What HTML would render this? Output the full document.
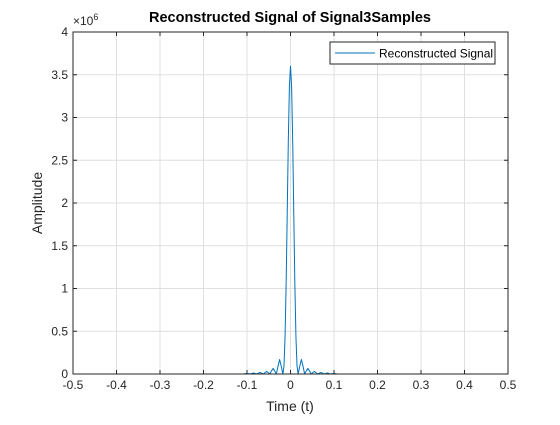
<!DOCTYPE html>
<html><head><meta charset="utf-8"><style>
body{margin:0;background:#fff;width:560px;height:420px;overflow:hidden}
svg text{font-family:"Liberation Sans",sans-serif}
</style></head><body>
<svg id="chart" width="560" height="420" xmlns="http://www.w3.org/2000/svg">
<rect width="560" height="420" fill="#fff"/>
<rect x="73" y="32" width="435" height="342" fill="#fff"/>
<g id="grid"></g><g id="ticks"></g>
<path id="line" fill="none" stroke="#0072bd" stroke-width="1" stroke-linejoin="round"/>
<rect x="73" y="32" width="435" height="342" fill="none" stroke="#262626" stroke-width="1"/>
<text x="290" y="22" text-anchor="middle" font-size="14.5" font-weight="bold" fill="#000">Reconstructed Signal of Signal3Samples</text>
<text x="290" y="411" text-anchor="middle" font-size="14" fill="#262626">Time (t)</text>
<text transform="translate(42,203) rotate(-90)" text-anchor="middle" font-size="14" fill="#262626">Amplitude</text>
<text x="73" y="25" font-size="12" fill="#262626">×10<tspan dy="-5" font-size="9">6</tspan></text>
<g>
<rect x="330" y="42" width="165" height="22" fill="#fff" stroke="#262626" stroke-width="1"/>
<line x1="335" y1="53" x2="375" y2="53" stroke="#0072bd"/>
<text x="379" y="57.5" font-size="12" fill="#000">Reconstructed Signal</text>
</g>
</svg>
<script>
const xTicks=[-0.5,-0.4,-0.3,-0.2,-0.1,0,0.1,0.2,0.3,0.4,0.5];
const xTickLabels=["-0.5","-0.4","-0.3","-0.2","-0.1","0","0.1","0.2","0.3","0.4","0.5"];
const yTicks=[0,0.5,1,1.5,2,2.5,3,3.5,4];
const yTickLabels=["0","0.5","1","1.5","2","2.5","3","3.5","4"];
const times=[-0.5,-0.1075,-0.1,-0.0925,-0.085,-0.0775,-0.07,-0.0625,-0.059,-0.055,-0.051,-0.0475,-0.044,-0.04,-0.036,-0.0325,-0.029,-0.025,-0.021,-0.0175,-0.015,-0.0125,-0.01,-0.0075,-0.005,-0.0025,0,0.0025,0.005,0.0075,0.01,0.0125,0.015,0.0175,0.021,0.025,0.029,0.0325,0.036,0.04,0.044,0.0475,0.051,0.055,0.059,0.0625,0.07,0.0775,0.085,0.0925,0.1,0.1075,0.5];
const amps=[0,0,0.008,0,0.012,0,0.018,0,0.015,0.03,0.015,0,0.033,0.065,0.033,0,0.085,0.17,0.085,0,0.094,0.436,1.06,1.89,2.73,3.37,3.6,3.37,2.73,1.89,1.06,0.436,0.094,0,0.085,0.17,0.085,0,0.033,0.065,0.033,0,0.015,0.03,0.015,0,0.018,0,0.012,0,0.008,0,0];
</script>
<script>
(function(){
const ns="http://www.w3.org/2000/svg";
const L=73,R=508,T=32,B=374;
const sx=v=>L+(v+0.5)*(R-L);
const sy=v=>B-v/4*(B-T);
const grid=document.getElementById('grid'),tk=document.getElementById('ticks');
function mk(p,tag,a){const e=document.createElementNS(ns,tag);for(const k in a)e.setAttribute(k,a[k]);p.appendChild(e);return e;}
xTicks.forEach((v,i)=>{const x=sx(v);
 const g=mk(grid,'line',{x1:x,x2:x,y1:T,y2:B,stroke:'#dfdfdf'});
 
 
 mk(tk,'line',{x1:x,x2:x,y1:B,y2:B-4,stroke:'#262626'});
 mk(tk,'line',{x1:x,x2:x,y1:T,y2:T+4,stroke:'#262626'});
 const t=mk(tk,'text',{x:x,y:B+15,'text-anchor':'middle','font-size':12,fill:'#262626'});
 t.textContent=xTickLabels[i];
 
 
});
yTicks.forEach((v,i)=>{const y=sy(v);
 const g=mk(grid,'line',{x1:L,x2:R,y1:y,y2:y,stroke:'#dfdfdf'});
 
 
 mk(tk,'line',{x1:L,x2:L+4,y1:y,y2:y,stroke:'#262626'});
 mk(tk,'line',{x1:R,x2:R-4,y1:y,y2:y,stroke:'#262626'});
 const t=mk(tk,'text',{x:L-5,y:y+4,'text-anchor':'end','font-size':12,fill:'#262626'});
 t.textContent=yTickLabels[i];
 
 
});
const n=Math.min(times.length,amps.length);
let d='';for(let i=0;i<n;i++)d+=(i?'L':'M')+sx(times[i]).toFixed(2)+','+sy(amps[i]).toFixed(2);
document.getElementById('line').setAttribute('d',d);
})();
</script>
</body></html>
